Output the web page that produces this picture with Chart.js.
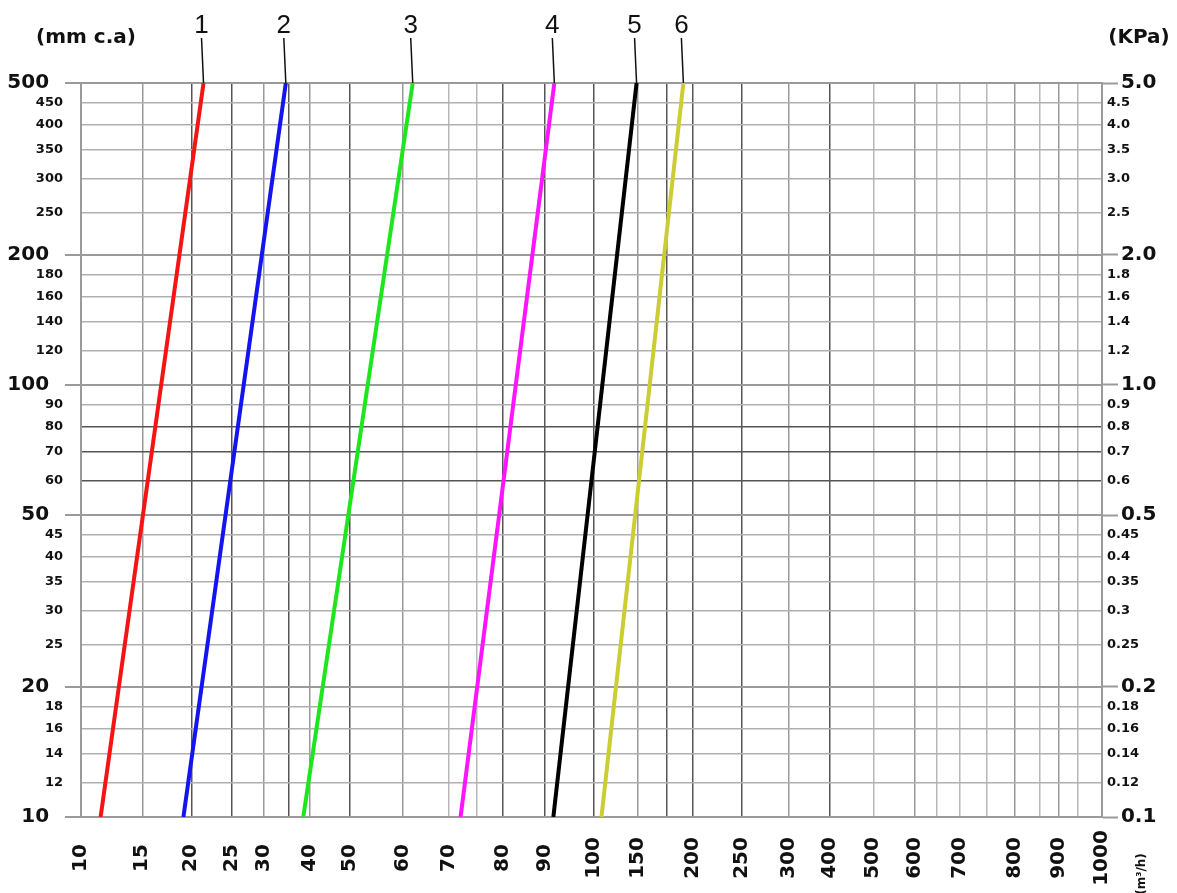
<!DOCTYPE html>
<html>
<head>
<meta charset="utf-8">
<script src="https://cdn.jsdelivr.net/npm/chart.js@4.4.1/dist/chart.umd.min.js"></script>
<style>
  html, body { margin: 0; padding: 0; background: #fff; }
  #wrap { width: 1177px; height: 893px; }
</style>
</head>
<body>
<div id="wrap"><canvas id="chart"></canvas></div>
<script>
const lineNames = ["1", "2", "3", "4", "5", "6"];
const flowAtLow = [11.6, 19.2, 38.5, 72.1, 91.8, 109];   // m3/h at 10 mm c.a
const flowAtHigh = [21.5, 34.5, 62.2, 92, 149, 191];     // m3/h at 500 mm c.a
const pressureEnds = [10, 500];

const flowGrid = [10, 15, 20, 25, 30, 35, 40, 50, 60, 70, 75, 80, 90, 100, 150, 175, 200,
  250, 300, 400, 500, 600, 650, 700, 750, 800, 850, 900, 950, 1000];
const flowLabels = [10, 15, 20, 25, 30, 40, 50, 60, 70, 80, 90, 100, 150, 200, 250, 300,
  400, 500, 600, 700, 800, 900, 1000];
const mmTicks = [10, 12, 14, 16, 18, 20, 25, 30, 35, 40, 45, 50, 60, 70, 80, 90, 100,
  120, 140, 160, 180, 200, 250, 300, 350, 400, 450, 500];
const mmMajor = [10, 20, 50, 100, 200, 500];
const kpaTicks = [0.1, 0.12, 0.14, 0.16, 0.18, 0.2, 0.25, 0.3, 0.35, 0.4, 0.45, 0.5, 0.6,
  0.7, 0.8, 0.9, 1, 1.2, 1.4, 1.6, 1.8, 2, 2.5, 3, 3.5, 4, 4.5, 5];
const kpaMajor = [0.1, 0.2, 0.5, 1, 2, 5];

// the printed flow axis is hand-spaced: where each gridline sits (0 = left, 1 = right)
const flowGridPlace = [0, 0.060, 0.108, 0.148, 0.179, 0.203, 0.224, 0.263, 0.315, 0.360,
  0.388, 0.413, 0.454, 0.502, 0.545, 0.574, 0.599, 0.647, 0.693, 0.733, 0.776, 0.817,
  0.838, 0.861, 0.887, 0.915, 0.939, 0.958, 0.976, 1];

const lineColors = ["#f41414", "#1414f0", "#1ee61e", "#ff14ff", "#000000", "#cccc33"];
const darkFlowLines = [20, 25, 35, 50, 80, 90, 100, 175, 200, 250, 400];
const lightFlowLines = [70, 75, 500, 650, 700, 750, 850, 950];
const darkMmLines = [60, 70, 80];

const FONT = "DejaVu Sans";
const GRID = "#9a9a9a";
const SMALL = { family: FONT, size: 13, weight: "bold" };
const BIG = { family: FONT, size: 20, weight: "bold" };

function flowToDecimal(v) {
  if (v <= flowGrid[0]) return 0;
  for (let i = 1; i < flowGrid.length; i++) {
    if (v <= flowGrid[i]) {
      const t = (v - flowGrid[i - 1]) / (flowGrid[i] - flowGrid[i - 1]);
      return flowGridPlace[i - 1] + t * (flowGridPlace[i] - flowGridPlace[i - 1]);
    }
  }
  return 1;
}

function decimalToFlow(d) {
  if (d <= 0) return flowGrid[0];
  for (let i = 1; i < flowGridPlace.length; i++) {
    if (d <= flowGridPlace[i]) {
      const t = (d - flowGridPlace[i - 1]) / (flowGridPlace[i] - flowGridPlace[i - 1]);
      return flowGrid[i - 1] + t * (flowGrid[i] - flowGrid[i - 1]);
    }
  }
  return flowGrid[flowGrid.length - 1];
}

class FlowScale extends Chart.LinearScale {
  static id = "flow";
  static defaults = {};
  buildTicks() {
    return flowGrid.map(v => ({ value: v }));
  }
  getPixelForValue(value) {
    return this.getPixelForDecimal(flowToDecimal(value));
  }
  getValueForPixel(pixel) {
    return decimalToFlow(this.getDecimalForPixel(pixel));
  }
}
Chart.register(FlowScale);

function setTicks(list) {
  return scale => { scale.ticks = list.map(v => ({ value: v })); };
}

function kpaText(v) {
  return v >= 1 ? v.toFixed(1) : String(v);
}

const datasets = lineNames.map((name, i) => ({
  label: name,
  data: [
    { x: flowAtLow[i], y: pressureEnds[0] },
    { x: flowAtHigh[i], y: pressureEnds[1] }
  ],
  borderColor: lineColors[i],
  borderWidth: 4,
  pointRadius: 0,
  fill: false
}));

const textPlugin = {
  id: "chartText",
  afterDraw(chart) {
    const ctx = chart.ctx;
    const area = chart.chartArea;
    const xs = chart.scales.x;
    const ys = chart.scales.y;
    ctx.save();
    ctx.fillStyle = "#111";

    // flow labels, rotated and centred under each gridline
    ctx.font = "bold 20px " + FONT;
    ctx.textAlign = "center";
    ctx.textBaseline = "middle";
    flowLabels.forEach(v => {
      ctx.save();
      ctx.translate(xs.getPixelForValue(v), area.bottom + 41);
      ctx.rotate(-Math.PI / 2);
      ctx.fillText(String(v), 0, 0);
      ctx.restore();
    });
    ctx.save();
    ctx.font = "bold 12px " + FONT;
    ctx.translate(area.right + 40, area.bottom + 57);
    ctx.rotate(-Math.PI / 2);
    ctx.fillText("(m³/h)", 0, 0);
    ctx.restore();

    ctx.font = "bold 20px " + FONT;
    ctx.textBaseline = "alphabetic";
    ctx.fillText("(mm c.a)", 86, 43);
    ctx.fillText("(KPa)", 1139, 43);

    // curve numbers with their leader lines
    ctx.font = "26px Liberation Sans";
    ctx.strokeStyle = "#111";
    ctx.lineWidth = 1.5;
    chart.data.datasets.forEach(ds => {
      const top = ds.data[1];
      const px = xs.getPixelForValue(top.x);
      const py = ys.getPixelForValue(top.y);
      ctx.fillText(ds.label, px - 2, 33);
      ctx.beginPath();
      ctx.moveTo(px - 2, 38);
      ctx.lineTo(px, py);
      ctx.stroke();
    });
    ctx.restore();
  }
};

new Chart(document.getElementById("chart"), {
  type: "line",
  data: { datasets },
  plugins: [textPlugin],
  options: {
    responsive: true,
    maintainAspectRatio: false,
    animation: false,
    layout: { padding: { top: 83, left: 0, right: 0, bottom: 0 } },
    plugins: {
      legend: { display: false },
      tooltip: { enabled: false }
    },
    scales: {
      x: {
        type: "flow",
        position: "bottom",
        min: 10,
        max: 1000,
        afterFit: scale => { scale.height = 76; },
        ticks: { display: false, autoSkip: false },
        border: { color: GRID, width: 2 },
        grid: {
          drawTicks: false,
          lineWidth: 1.5,
          color: ctx => {
            const v = ctx.tick.value;
            if (darkFlowLines.includes(v)) return "#555";
            if (lightFlowLines.includes(v)) return "#b8b8b8";
            return GRID;
          }
        }
      },
      y: {
        type: "logarithmic",
        position: "left",
        min: 10,
        max: 500,
        afterBuildTicks: setTicks(mmTicks),
        afterFit: scale => { scale.width = 81; },
        border: { color: GRID, width: 2 },
        grid: {
          tickLength: 16,
          lineWidth: ctx => mmMajor.includes(ctx.tick.value) ? 2 : 1.5,
          color: ctx => {
            const v = ctx.tick.value;
            if (darkMmLines.includes(v)) return "#555";
            if (mmMajor.includes(v)) return GRID;
            return "#b0b0b0";
          },
          tickColor: ctx => mmMajor.includes(ctx.tick.value) ? GRID : "rgba(0,0,0,0)",
          tickWidth: 2
        },
        ticks: {
          autoSkip: false,
          padding: 2,
          color: "#111",
          font: ctx => mmMajor.includes(ctx.tick.value) ? BIG : SMALL,
          // big labels sit further out than the small ones
          callback: v => mmMajor.includes(v) ? String(v) + "  " : String(v)
        }
      },
      kpa: {
        type: "logarithmic",
        position: "right",
        min: 0.1,
        max: 5,
        afterBuildTicks: setTicks(kpaTicks),
        afterFit: scale => { scale.width = 75; },
        border: { color: GRID, width: 2 },
        grid: {
          drawOnChartArea: false,
          tickLength: 16,
          tickColor: ctx => kpaMajor.includes(ctx.tick.value) ? GRID : "rgba(0,0,0,0)",
          tickWidth: 2
        },
        ticks: {
          autoSkip: false,
          padding: -11,
          color: "#111",
          font: ctx => kpaMajor.includes(ctx.tick.value) ? BIG : SMALL,
          callback: v => kpaMajor.includes(v) ? "  " + kpaText(v) : kpaText(v)
        }
      }
    }
  }
});
</script>
</body>
</html>
